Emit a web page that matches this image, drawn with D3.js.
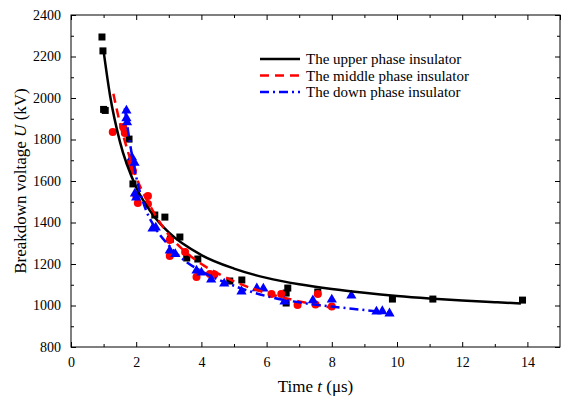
<!DOCTYPE html>
<html>
<head>
<meta charset="utf-8">
<script src="https://cdn.jsdelivr.net/npm/d3@7"></script>
<style>
  body { margin: 0; background: #fff; }
</style>
</head>
<body>
<script>
// measured points (t in us, U in kV)
var upperPts = [[0.95,2294],[0.98,2227],[1.0,1945],[1.05,1940],[1.78,1802],[1.9,1586],[2.57,1436],[2.88,1426],
  [3.05,1320],[3.34,1330],[3.55,1229],[3.89,1224],[4.87,1118],[5.24,1123],[6.65,1084],[6.6,1060],[6.6,1012],
  [7.57,1065],[9.86,1031],[11.1,1031],[13.85,1026]];
var middlePts = [[1.28,1836],[1.6,1860],[1.65,1831],[1.8,1687],[1.87,1667],[1.9,1650],[2.05,1494],[2.0,1530],
  [2.36,1528],[2.36,1489],[3.03,1316],[3.03,1239],[3.5,1258],[3.85,1137],[4.26,1152],[4.4,1150],[6.15,1055],
  [6.45,1055],[6.95,1002],[7.5,1005],[7.57,1055],[8.0,995]];
var downPts = [[1.7,1942],[1.7,1905],[1.72,1885],[1.87,1716],[1.95,1690],[1.96,1542],[2.0,1523],[2.5,1373],
  [2.6,1378],[3.03,1267],[3.2,1250],[3.85,1171],[4.0,1161],[4.3,1128],[4.7,1108],[5.23,1070],[5.7,1085],
  [5.9,1084],[6.55,1022],[7.42,1027],[8.0,1031],[8.6,1050],[9.37,973],[9.55,975],[9.77,964]];

// fitted curves
var upperFit = [[1.0,2226],[1.2,2010],[1.5,1790],[2,1570],[2.5,1440],[3,1352],[4,1243],[5,1178],[6,1133],
  [7,1102],[8,1079],[9,1061],[10,1046],[11,1034],[12,1024],[13,1016],[13.8,1010]];
var middleFit = [[1.3,2020],[1.5,1880],[1.75,1740],[2,1620],[2.5,1460],[3,1340],[3.5,1260],[4,1200],
  [4.5,1155],[5,1116],[6,1060],[7,1020],[8,990]];
var downFit = [[1.65,1950],[1.8,1790],[2.0,1620],[2.3,1460],[2.6,1370],[3.0,1290],[3.5,1215],[4,1165],
  [5,1095],[6,1045],[7,1015],[8,995],[9,978],[9.75,965]];

var legendNames = ["The upper phase insulator", "The middle phase insulator", "The down phase insulator"];
var xTicks = [0,2,4,6,8,10,12,14];
var yTicks = [800,1000,1200,1400,1600,1800,2000,2200,2400];

var width = 564, height = 400;
var L = 71, R = 560, T = 15, B = 347;
var FONT = '"Liberation Serif", "Times New Roman", Times, "DejaVu Serif", serif';

var x = d3.scaleLinear().domain([0,15]).range([L,R]);
var y = d3.scaleLinear().domain([800,2400]).range([B,T]);

var svg = d3.select('body').append('svg')
  .attr('width', width).attr('height', height)
  .style('font-family', FONT);

// frame
svg.append('rect').attr('x', L).attr('y', T).attr('width', R-L).attr('height', B-T)
  .attr('fill','none').attr('stroke','#000').attr('stroke-width',1);

function clean(g) {
  g.select('.domain').remove();
  g.attr('font-family', null);
  g.selectAll('text').attr('font-size',14).style('font-family', FONT);
}
var xMinor = d3.range(1,15,2);
var yMinor = d3.range(900,2400,200);

svg.append('g').attr('transform','translate(0,'+B+')')
  .call(d3.axisBottom(x).tickValues(xTicks).tickSize(-5).tickPadding(10).tickFormat(d3.format('d')))
  .call(clean);
svg.append('g').attr('transform','translate(0,'+B+')')
  .call(d3.axisBottom(x).tickValues(xMinor).tickSize(-3).tickFormat(''))
  .call(clean);
svg.append('g').attr('transform','translate(0,'+T+')')
  .call(d3.axisTop(x).tickValues(xTicks.concat([15])).tickSize(-5).tickFormat(''))
  .call(clean);
svg.append('g').attr('transform','translate(0,'+T+')')
  .call(d3.axisTop(x).tickValues(xMinor).tickSize(-3).tickFormat(''))
  .call(clean);

svg.append('g').attr('transform','translate('+L+',0)')
  .call(d3.axisLeft(y).tickValues(yTicks).tickSize(-5).tickPadding(10).tickFormat(d3.format('d')))
  .call(clean);
svg.append('g').attr('transform','translate('+L+',0)')
  .call(d3.axisLeft(y).tickValues(yMinor).tickSize(-3).tickFormat(''))
  .call(clean);
svg.append('g').attr('transform','translate('+R+',0)')
  .call(d3.axisRight(y).tickValues(yTicks).tickSize(-5).tickFormat(''))
  .call(clean);
svg.append('g').attr('transform','translate('+R+',0)')
  .call(d3.axisRight(y).tickValues(yMinor).tickSize(-3).tickFormat(''))
  .call(clean);

// axis titles
var xt = svg.append('text').attr('x', (L+R)/2).attr('y', 392)
  .attr('text-anchor','middle').attr('font-size',17).style('font-family', FONT);
xt.append('tspan').text('Time ');
xt.append('tspan').attr('font-style','italic').text('t');
xt.append('tspan').text(' (\u03bcs)');

var yt = svg.append('text').attr('transform','translate(26,'+((T+B)/2)+') rotate(-90)')
  .attr('text-anchor','middle').attr('font-size',17).style('font-family', FONT);
yt.append('tspan').text('Breakdown voltage ');
yt.append('tspan').attr('font-style','italic').text('U');
yt.append('tspan').text(' (kV)');

var line = d3.line().x(function(d){return x(d[0]);}).y(function(d){return y(d[1]);})
  .curve(d3.curveMonotoneX);

// scatter markers
var plot = svg.append('g');
plot.selectAll('.sq').data(upperPts).enter().append('rect')
  .attr('x', function(d){return x(d[0])-3.5;}).attr('y', function(d){return y(d[1])-3.5;})
  .attr('width',7).attr('height',7).attr('fill','#000');
plot.selectAll('.ci').data(middlePts).enter().append('circle')
  .attr('cx', function(d){return x(d[0]);}).attr('cy', function(d){return y(d[1]);})
  .attr('r',4).attr('fill','#ff0000');
var tri = d3.symbol().type(d3.symbolTriangle).size(45);
plot.selectAll('.tr').data(downPts).enter().append('path')
  .attr('d', tri)
  .attr('transform', function(d){return 'translate('+x(d[0])+','+(y(d[1])+0.5)+')';})
  .attr('fill','#0000ff');

// fit curves
svg.append('path').attr('d', line(upperFit)).attr('fill','none')
  .attr('stroke','#000').attr('stroke-width',2.5);
svg.append('path').attr('d', line(middleFit)).attr('fill','none')
  .attr('stroke','#ff0000').attr('stroke-width',2.5).attr('stroke-dasharray','9,6');
svg.append('path').attr('d', line(downFit)).attr('fill','none')
  .attr('stroke','#0000ff').attr('stroke-width',2.5).attr('stroke-dasharray','9,4,2,4');

// legend
var styles = [
  {c:'#000', dash:null},
  {c:'#ff0000', dash:'9,6'},
  {c:'#0000ff', dash:'9,4,2,4'}
];
var lg = svg.append('g').selectAll('g').data(legendNames).enter().append('g')
  .attr('transform', function(d,i){return 'translate(260,'+(59+i*16.5)+')';});
lg.append('line').attr('x1',0).attr('x2',40).attr('y1',0).attr('y2',0)
  .attr('stroke', function(d,i){return styles[i].c;}).attr('stroke-width',2.5)
  .attr('stroke-dasharray', function(d,i){return styles[i].dash;});
lg.append('text').attr('x',46).attr('y',5).attr('font-size',15)
  .style('font-family', FONT).text(function(d){return d;});
</script>
</body>
</html>
